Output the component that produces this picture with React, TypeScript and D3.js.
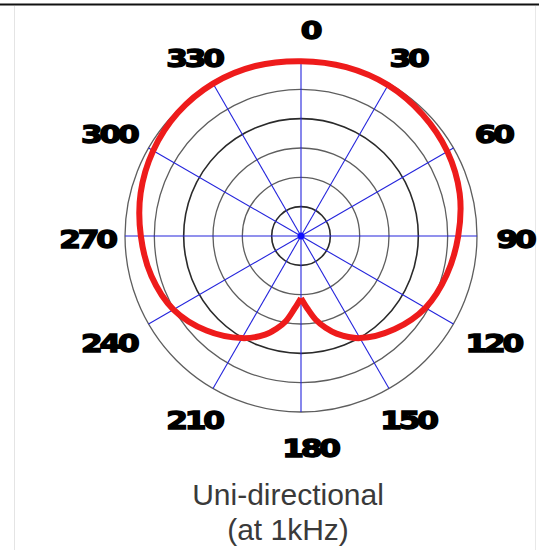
import React, { useEffect, useRef } from "react";
import * as d3 from "d3";

// polar response, degrees clockwise from front, level in dB
const angles = [0, 15, 30, 45, 60, 75, 90, 105, 120, 135, 150, 160, 165, 170, 175, 180,
  185, 190, 195, 200, 210, 225, 240, 255, 270, 285, 300, 315, 330, 345];
const levels = [-0.2, -0.2, -0.3, -0.7, -1.2, -2.0, -3.2, -4.3, -5.5, -7.5, -9.9, -12.3, -13.8, -15.5, -17.6, -19.4,
  -17.6, -15.3, -13.6, -12.1, -9.9, -7.2, -4.9, -3.6, -2.7, -1.7, -0.9, -0.3, 0, 0];

const ringLevels = [-25, -20, -15, -10, -5, 0];
const darkRings = [-25, -10];
const spokeAngles = [0, 30, 60, 90, 120, 150, 180, 210, 240, 270, 300, 330];
const angleLabels = ["0", "30", "60", "90", "120", "150", "180", "210", "240", "270", "300", "330"];
const titleLines = ["Uni-directional", "(at 1kHz)"];

const W = 539, H = 550;

export default function App() {
  const ref = useRef<SVGSVGElement>(null);

  useEffect(() => {
    const svg = d3.select(ref.current);
    svg.selectAll("*").remove();

    // frame
    svg.append("line").attr("x1", 0).attr("x2", W).attr("y1", 4.5).attr("y2", 4.5)
      .attr("stroke", "#111").attr("stroke-width", 2);
    svg.append("line").attr("x1", 14.5).attr("x2", 14.5).attr("y1", 6).attr("y2", H)
      .attr("stroke", "#e4e4e4").attr("stroke-width", 1);
    svg.append("line").attr("x1", 535.5).attr("x2", 535.5).attr("y1", 6).attr("y2", H)
      .attr("stroke", "#e8e8e8").attr("stroke-width", 1);

    const cx = 301, cy = 236, R = 176;
    const g = svg.append("g").attr("transform", `translate(${cx},${cy})`);

    const r = d3.scaleLinear().domain([-30, 0]).range([0, R]);
    const rad = (a: number) => (a * Math.PI) / 180;

    // rings
    g.selectAll("circle.ring").data(ringLevels).enter().append("circle")
      .attr("class", "ring")
      .attr("r", d => r(d))
      .attr("fill", "none")
      .attr("stroke", d => darkRings.includes(d) ? "#2a2a2a" : "#5e5e5e")
      .attr("stroke-width", d => darkRings.includes(d) ? 1.6 : 1.3);

    // spokes
    g.selectAll("line.spoke").data(spokeAngles).enter().append("line")
      .attr("class", "spoke")
      .attr("x1", 0).attr("y1", 0)
      .attr("x2", d => r(0) * Math.sin(rad(d)))
      .attr("y2", d => -r(0) * Math.cos(rad(d)))
      .attr("stroke", "#2424dc").attr("stroke-width", 1.1);

    g.append("circle").attr("r", 3.5).attr("fill", "#1010ff");

    // response curve, started at the rear so the cusp stays sharp
    const start = angles.indexOf(180);
    const pts: [number, number][] = [];
    for (let i = 0; i <= angles.length; i++) {
      const k = (start + i) % angles.length;
      let a = angles[k];
      if (i > 0 && a <= 180) a += 360;
      pts.push([rad(a), r(levels[k])]);
    }
    const line = d3.lineRadial<[number, number]>()
      .angle(d => d[0]).radius(d => d[1])
      .curve(d3.curveCatmullRom.alpha(0.5));
    g.append("path").attr("d", line(pts))
      .attr("fill", "none").attr("stroke", "#ee1b1b")
      .attr("stroke-width", 6).attr("stroke-linejoin", "round");

    // angle labels, on a slightly lowered ellipse round the plot
    g.selectAll("text.lab").data(spokeAngles).enter().append("text")
      .attr("class", "lab")
      .attr("transform", d => {
        const diag = d % 180 === 60 || d % 180 === 120 ? 8 : 0;
        const x = (214 + diag) * Math.sin(rad(d)) + (d % 180 === 0 ? 9 : 0);
        const y = 3 - 209 * Math.cos(rad(d));
        return `translate(${x},${y}) scale(1.3,1)`;
      })
      .attr("text-anchor", "middle")
      .attr("dy", "0.36em")
      .attr("font-family", "DejaVu Sans")
      .attr("font-weight", "bold")
      .attr("font-size", 24)
      .attr("letter-spacing", -2.5)
      .attr("stroke", "#000").attr("stroke-width", 1.4)
      .attr("fill", "#000")
      .text((d, i) => angleLabels[i]);

    // caption
    svg.selectAll("text.title").data(titleLines).enter().append("text")
      .attr("class", "title")
      .attr("x", 288)
      .attr("y", (d, i) => 505 + i * 35)
      .attr("text-anchor", "middle")
      .attr("font-family", "Liberation Sans, Arial, sans-serif")
      .attr("font-size", 30)
      .attr("fill", "#3a3a3a")
      .text(d => d);
  }, []);

  return (
    <svg ref={ref} width={W} height={H}
      style={{ position: "absolute", left: 0, top: 0, background: "#fff" }} />
  );
}
